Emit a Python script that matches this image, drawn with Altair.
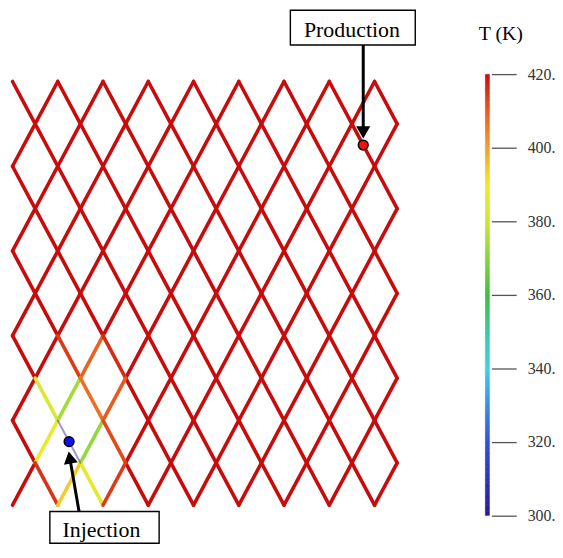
import altair as alt
import pandas as pd

# ---------------- lattice (fracture network) ----------------
N_ROWS = 11                                   # node rows 0..10 (top to bottom)
EVEN_COLS = [0, 2, 4, 6, 8, 10, 12, 14, 16]   # node columns on even rows
ODD_COLS = [1, 3, 5, 7, 9, 11, 13, 15, 17]    # node columns on odd rows
T_HOT = 420                                   # temperature of undisturbed fractures (K)

# fractures cooled by the injected water: (row_a, col_a, row_b, col_b, T in K)
COOLED_EDGES = [
    (6, 2, 7, 3, 414),
    (6, 4, 7, 3, 409),
    (6, 4, 7, 5, 416),
    (7, 1, 8, 2, 384),
    (7, 3, 8, 2, 374),
    (7, 3, 8, 4, 407),
    (7, 5, 8, 4, 410),
    (8, 2, 9, 1, 388),
    (8, 4, 9, 3, 372),
    (8, 4, 9, 5, 412),
    (9, 1, 10, 2, 415),
    (9, 3, 10, 2, 394),
    (9, 3, 10, 4, 387),
    (9, 5, 10, 4, 414),
]
INJECTION_EDGE = (8, 2, 9, 3, 300)

# ---------------- wells & annotations ----------------
WELL_NAMES = ["Production", "Injection"]
WELL_COL = [15.5, 2.5]
WELL_ROW = [1.5, 8.5]
WELL_FILL = ["#f01010", "#1010f0"]

LABEL_COL = [15.0, 3.93]
LABEL_ROW = [-1.05, 10.74]
BOX_COL1 = [12.28, 1.65]
BOX_COL2 = [17.80, 6.48]
BOX_ROW1 = [-1.68, 10.15]
BOX_ROW2 = [-0.86, 10.90]

ARROW_COL1 = [15.5, 2.94]
ARROW_ROW1 = [-0.86, 10.15]
ARROW_COL2 = [15.5, 2.53]
ARROW_ROW2 = [1.08, 8.88]
HEAD_COL = [15.5, 2.53]
HEAD_ROW = [1.2, 8.873]
HEAD_ANGLE = [180, 350]

# ---------------- colour scale ----------------
T_STOPS = [300, 310, 320, 330, 340, 350, 360, 370, 380, 390, 400, 410, 420]
T_COLORS = ["#2b1b8f", "#2a32c0", "#3050d8", "#3c8ce4", "#40d0e8", "#40c8a0",
            "#3cbf3c", "#88d43c", "#c8e836", "#f2ea2a", "#f2a030", "#ea5a1e", "#c80c0c"]
CB_TICKS = [300, 320, 340, 360, 380, 400, 420]

# ---------------- build tables ----------------
def cols_of(r):
    return EVEN_COLS if r % 2 == 0 else ODD_COLS

special = {}
for (ra, ca, rb, cb, t) in COOLED_EDGES:
    special[(ra, ca, rb, cb)] = t

edges = []
for r in range(N_ROWS - 1):
    for c in cols_of(r):
        for dc in (-1, 1):
            c2 = c + dc
            if c2 in cols_of(r + 1):
                key = (r, c, r + 1, c2)
                if key == INJECTION_EDGE[:4]:
                    continue
                t = special.get(key, T_HOT)
                edges.append({"c1": c, "r1": r, "c2": c2, "r2": r + 1, "T": t})
edge_df = pd.DataFrame(edges)
hot_df = edge_df[edge_df["T"] >= T_HOT]
cool_df = edge_df[edge_df["T"] < T_HOT]
inj_df = pd.DataFrame([{"c1": INJECTION_EDGE[1], "r1": INJECTION_EDGE[0],
                        "c2": INJECTION_EDGE[3], "r2": INJECTION_EDGE[2],
                        "T": INJECTION_EDGE[4]}])

ann_df = pd.DataFrame({
    "name": WELL_NAMES, "wc": WELL_COL, "wr": WELL_ROW, "fill": WELL_FILL,
    "lc": LABEL_COL, "lr": LABEL_ROW,
    "bc1": BOX_COL1, "bc2": BOX_COL2, "br1": BOX_ROW1, "br2": BOX_ROW2,
    "ac1": ARROW_COL1, "ar1": ARROW_ROW1, "ac2": ARROW_COL2, "ar2": ARROW_ROW2,
    "hc": HEAD_COL, "hr": HEAD_ROW, "ha": HEAD_ANGLE,
})

PANEL_H = 538
xs = alt.Scale(domain=[-0.2, 19.8], nice=False, zero=False)
ys = alt.Scale(domain=[-1.7, -1.7 + PANEL_H / 42.6], nice=False, zero=False, reverse=True)
cscale = alt.Scale(domain=T_STOPS, range=T_COLORS, interpolate="rgb")
SERIF = "Liberation Serif"


def edge_layer(df, **mk):
    return alt.Chart(df).mark_rule(strokeCap="round", **mk).encode(
        x=alt.X("c1:Q", scale=xs, axis=None),
        x2="c2:Q",
        y=alt.Y("r1:Q", scale=ys, axis=None),
        y2="r2:Q",
        color=alt.Color("T:Q", scale=cscale, legend=None),
    )

hot = edge_layer(hot_df, strokeWidth=3.6)
cool = edge_layer(cool_df, strokeWidth=3.6)
inj = edge_layer(inj_df, strokeWidth=2, opacity=0.45)

ann = alt.Chart(ann_df)
boxes = ann.mark_rect(fill="white", stroke="black", strokeWidth=1.4).encode(
    x=alt.X("bc1:Q", scale=xs, axis=None), x2="bc2:Q",
    y=alt.Y("br1:Q", scale=ys, axis=None), y2="br2:Q",
)
texts = ann.mark_text(font=SERIF, fontSize=22, align="center",
                      baseline="alphabetic", color="black").encode(
    x=alt.X("lc:Q", scale=xs, axis=None),
    y=alt.Y("lr:Q", scale=ys, axis=None),
    text="name:N",
)
shafts = ann.mark_rule(color="black", strokeWidth=3).encode(
    x=alt.X("ac1:Q", scale=xs, axis=None), x2="ac2:Q",
    y=alt.Y("ar1:Q", scale=ys, axis=None), y2="ar2:Q",
)
heads = ann.mark_point(shape="triangle-up", filled=True, color="black",
                       size=200, opacity=1).encode(
    x=alt.X("hc:Q", scale=xs, axis=None),
    y=alt.Y("hr:Q", scale=ys, axis=None),
    angle=alt.Angle("ha:Q", scale=None),
)
wells = ann.mark_point(shape="circle", filled=True, size=95, stroke="black",
                       strokeWidth=1.6, opacity=1).encode(
    x=alt.X("wc:Q", scale=xs, axis=None),
    y=alt.Y("wr:Q", scale=ys, axis=None),
    fill=alt.Fill("fill:N", scale=None),
)

network = alt.layer(hot, cool, inj, boxes, texts, shafts, heads, wells).properties(
    width=455, height=PANEL_H)

# ---------------- colour bar ----------------
PX_PER_K = 3.695
cb_lo = list(range(300, 420))
cb_df = pd.DataFrame({
    "lo": cb_lo,
    "hi": [v + 1 for v in cb_lo],
    "mid": [v + 0.5 for v in cb_lo],
    "x0": [0] * len(cb_lo),
    "x1": [1] * len(cb_lo),
})
cb_top = 437.67
colorbar = alt.Chart(cb_df).mark_rect(strokeWidth=0.6).encode(
    x=alt.X("x0:Q", scale=alt.Scale(domain=[0, 1], nice=False), axis=None),
    x2="x1:Q",
    y=alt.Y("lo:Q",
            scale=alt.Scale(domain=[cb_top - PANEL_H / PX_PER_K, cb_top], nice=False, zero=False),
            axis=alt.Axis(orient="right", values=CB_TICKS, offset=2, tickSize=25,
                          tickColor="#555555", tickWidth=1.3, domain=False, grid=False,
                          labelPadding=11, labelFont=SERIF, labelFontSize=16,
                          labelColor="#333333", labelExpr="datum.label + '.'",
                          labelBound=False, labelOverlap=False, labelFlush=False,
                          title="T (K)", titleAngle=0, titleX=9, titleY=30,
                          titleAlign="center", titleBaseline="alphabetic",
                          titleFont=SERIF, titleFontSize=20, titleFontWeight="normal",
                          titleColor="black")),
    y2="hi:Q",
    color=alt.Color("mid:Q", scale=cscale, legend=None),
    stroke=alt.Stroke("mid:Q", scale=cscale, legend=None),
).properties(width=4, height=PANEL_H)

chart = alt.hconcat(network, colorbar, spacing=25, bounds="flush").properties(
    padding=0, background="white"
).configure_view(stroke=None)

chart.save("out.html", embed_options={"renderer": "svg", "actions": False})
